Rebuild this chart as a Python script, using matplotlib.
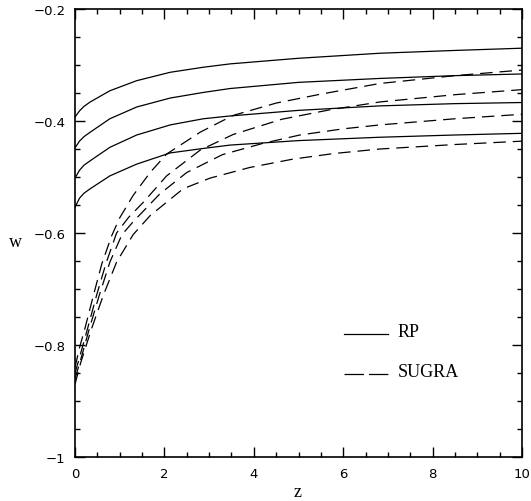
import matplotlib
matplotlib.use("Agg")
import matplotlib.pyplot as plt
from matplotlib.ticker import MultipleLocator, FuncFormatter

# RP curves (solid)
rp_z = [0, 0.1, 0.2, 0.34, 0.78, 1.38, 2.13, 2.87, 3.47, 5.0, 6.82, 8.5, 10]
rp_w1 = [-0.393, -0.382, -0.374, -0.366, -0.346, -0.328, -0.313, -0.304, -0.298, -0.288, -0.279, -0.274, -0.270]
rp_w2 = [-0.448, -0.436, -0.428, -0.420, -0.396, -0.375, -0.359, -0.349, -0.342, -0.331, -0.324, -0.319, -0.316]
rp_w3 = [-0.502, -0.488, -0.479, -0.471, -0.447, -0.425, -0.407, -0.396, -0.391, -0.381, -0.373, -0.369, -0.367]
rp_w4 = [-0.554, -0.538, -0.529, -0.521, -0.498, -0.477, -0.457, -0.449, -0.443, -0.435, -0.429, -0.425, -0.422]

# SUGRA curves (dashed)
sg_z1 = [0, 0.1, 0.22, 0.41, 0.6, 0.82, 1.0, 1.3, 1.68, 2.05, 2.8, 3.24, 3.54, 4.5, 5.5, 6.82, 8.5, 10]
sg_w1 = [-0.84, -0.805, -0.771, -0.712, -0.655, -0.605, -0.573, -0.533, -0.492, -0.459, -0.420, -0.402,
         -0.390, -0.368, -0.352, -0.333, -0.319, -0.309]
sg_z2 = [0, 0.07, 0.28, 0.48, 0.69, 0.93, 1.2, 1.53, 2.05, 2.8, 3.54, 4.62, 5.7, 6.82, 8.5, 10]
sg_w2 = [-0.85, -0.831, -0.771, -0.712, -0.655, -0.600, -0.572, -0.545, -0.498, -0.452, -0.424, -0.397,
         -0.380, -0.366, -0.353, -0.344]
sg_z3 = [0, 0.11, 0.32, 0.54, 0.78, 1.05, 1.3, 1.9, 2.5, 3.3, 4.2, 5.03, 6.0, 6.82, 8.5, 10]
sg_w3 = [-0.86, -0.831, -0.771, -0.712, -0.652, -0.603, -0.580, -0.530, -0.492, -0.460, -0.440, -0.425,
         -0.414, -0.407, -0.396, -0.388]
sg_z4 = [0, 0.13, 0.37, 0.63, 0.93, 1.3, 1.68, 2.42, 3.02, 3.91, 4.88, 5.8, 6.82, 8.5, 10]
sg_w4 = [-0.87, -0.831, -0.771, -0.712, -0.652, -0.603, -0.569, -0.521, -0.502, -0.483, -0.468, -0.458,
         -0.450, -0.442, -0.436]

plt.rcParams['lines.scale_dashes'] = False

fig = plt.figure(figsize=(5.31, 5.02), dpi=100)
ax = fig.add_axes([75 / 531, 44 / 502, 447 / 531, 448 / 502])

for w in (rp_w1, rp_w2, rp_w3, rp_w4):
    ax.plot(rp_z, w, color='black', lw=0.9)

for z, w in ((sg_z1, sg_w1), (sg_z2, sg_w2), (sg_z3, sg_w3), (sg_z4, sg_w4)):
    ax.plot(z, w, color='black', lw=0.9, dashes=(9, 5))

ax.set_xlim(0, 10)
ax.set_ylim(-1, -0.2)

ax.xaxis.set_major_locator(MultipleLocator(2))
ax.xaxis.set_minor_locator(MultipleLocator(0.5))
ax.yaxis.set_major_locator(MultipleLocator(0.2))
ax.yaxis.set_minor_locator(MultipleLocator(0.05))
fmt = FuncFormatter(lambda v, p: ('%g' % round(v, 3)).replace('-', '\u2212'))
ax.xaxis.set_major_formatter(fmt)
ax.yaxis.set_major_formatter(fmt)

ax.tick_params(which='both', direction='in', top=True, right=True, width=1)
ax.tick_params(which='major', length=7, pad=7)
ax.tick_params(which='minor', length=3.6)
for lab in ax.get_xticklabels() + ax.get_yticklabels():
    lab.set_fontfamily('DejaVu Sans')
    lab.set_fontsize(9.5)
for s in ax.spines.values():
    s.set_linewidth(1.2)

ax.set_xlabel('z', family='Liberation Serif', fontsize=13, va='center')
ax.set_ylabel('w', family='Liberation Serif', fontsize=13, rotation=0, ha='center', va='center')
ax.xaxis.set_label_coords(0.497, -0.077)
ax.yaxis.set_label_coords(-0.134, 0.48)

# legend drawn by hand
ax.plot([0.601, 0.6996], [0.2748, 0.2748], color='black', lw=0.9, transform=ax.transAxes)
ax.plot([0.601, 0.6996], [0.1848, 0.1848], color='black', lw=0.9, dashes=(14, 3.6), transform=ax.transAxes)
ax.text(0.7224, 0.2696, 'RP', family='Liberation Serif', fontsize=13, transform=ax.transAxes, va='baseline')
ax.text(0.7224, 0.1808, 'SUGRA', family='Liberation Serif', fontsize=13, transform=ax.transAxes, va='baseline')

plt.savefig('out.png', dpi=100)
